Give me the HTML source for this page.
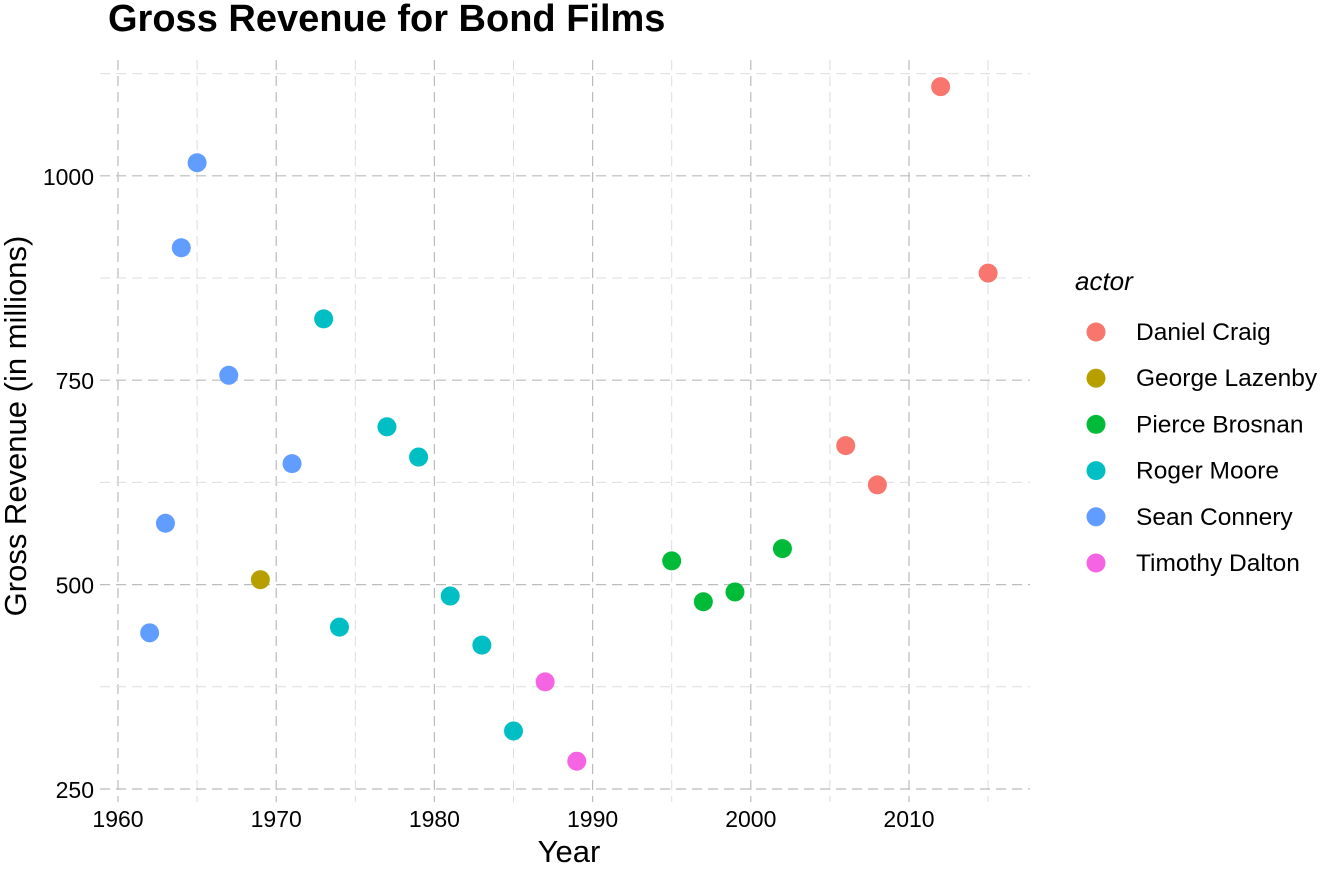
<!DOCTYPE html>
<html><head><meta charset="utf-8"><style>
body{margin:0;background:#fff;width:1344px;height:873px;overflow:hidden;font-family:"Liberation Sans",Arial,sans-serif}
</style></head><body>
<svg id="chart" width="1344" height="873" font-family="Liberation Sans, Arial, sans-serif">
<text x="108" y="31" font-size="38" font-weight="bold">Gross Revenue for Bond Films</text>
<g id="grid"></g><g id="axes"></g><g id="pts"></g><g id="legend"></g>
<text x="569" y="862" font-size="31" text-anchor="middle">Year</text>
<text transform="translate(26,426) rotate(-90)" font-size="31" text-anchor="middle">Gross Revenue (in millions)</text>
</svg>
<script>
const years=[1962,1963,1964,1965,1967,1969,1971,1973,1974,1977,1979,1981,1983,1985,1987,1989,1995,1997,1999,2002,2006,2008,2012,2015];
const revenue=[441,575,912,1016,756,506,648,825,448,693,656,486,426,321,381,284,529,479,491,544,670,622,1109,881];
const actors=["Sean Connery","Sean Connery","Sean Connery","Sean Connery","Sean Connery","George Lazenby","Sean Connery","Roger Moore","Roger Moore","Roger Moore","Roger Moore","Roger Moore","Roger Moore","Roger Moore","Timothy Dalton","Timothy Dalton","Pierce Brosnan","Pierce Brosnan","Pierce Brosnan","Pierce Brosnan","Daniel Craig","Daniel Craig","Daniel Craig","Daniel Craig"];
const legendNames=["Daniel Craig","George Lazenby","Pierce Brosnan","Roger Moore","Sean Connery","Timothy Dalton"];
const legendColors=["#F8766D","#B79F00","#00BA38","#00BFC4","#619CFF","#F564E3"];
const xTicks=[1960,1970,1980,1990,2000,2010];
const yTicks=[250,500,750,1000];
const xMinor=[1965,1975,1985,1995,2005,2015];
const yMinor=[375,625,875,1125];
const NS="http://www.w3.org/2000/svg";
const X=v=>118+(v-1960)*15.82, Y=v=>789-(v-250)*0.8176;
function mk(t,a,p){const e=document.createElementNS(NS,t);for(const k in a)e.setAttribute(k,a[k]);p.appendChild(e);return e;}
const g=document.getElementById('grid'),ax=document.getElementById('axes'),pts=document.getElementById('pts'),lg=document.getElementById('legend');
xTicks.forEach(t=>{const l=mk('line',{x1:X(t),x2:X(t),y1:60,y2:802,stroke:'#bbb','stroke-dasharray':'10,6','stroke-width':1.2},g);

const tx=mk('text',{x:X(t),y:827,'font-size':23,'text-anchor':'middle'},ax);tx.textContent=t;
});
xMinor.forEach(t=>{const l=mk('line',{x1:X(t),x2:X(t),y1:60,y2:802,stroke:'#ddd','stroke-dasharray':'10,6','stroke-width':1},g);
});
yTicks.forEach(t=>{const l=mk('line',{x1:100,x2:1030,y1:Y(t),y2:Y(t),stroke:'#bbb','stroke-dasharray':'10,6','stroke-width':1.2},g);

const tx=mk('text',{x:94,y:Y(t)+9,'font-size':23,'text-anchor':'end'},ax);tx.textContent=t;
});
yMinor.forEach(t=>{const l=mk('line',{x1:100,x2:1030,y1:Y(t),y2:Y(t),stroke:'#ddd','stroke-dasharray':'10,6','stroke-width':1},g);
});
years.forEach((y,i)=>{const c=mk('circle',{cx:X(y),cy:Y(revenue[i]),r:9.5,fill:legendColors[legendNames.indexOf(actors[i])]},pts);
});
const lt=mk('text',{x:1075,y:290,'font-size':26,'font-style':'italic'},lg);lt.textContent='actor';

legendNames.forEach((n,i)=>{const cy=332+i*46.2;
const c=mk('circle',{cx:1096,cy:cy,r:9.5,fill:legendColors[i]},lg);

const t=mk('text',{x:1136,y:cy+8,'font-size':24.5},lg);t.textContent=n;
});
</script>
</body></html>
